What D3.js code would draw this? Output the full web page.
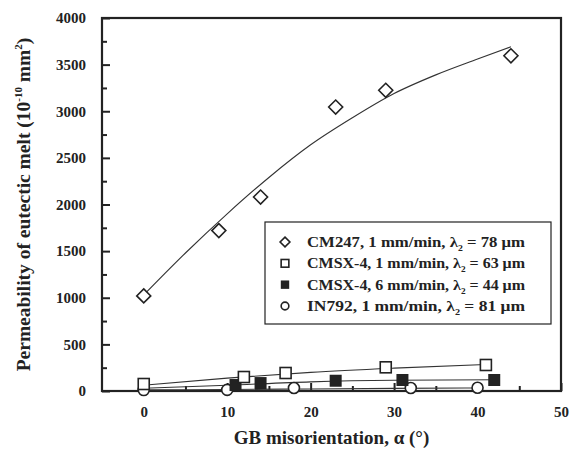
<!DOCTYPE html>
<html>
<head>
<meta charset="utf-8">
<script src="https://cdn.jsdelivr.net/npm/d3@7"></script>
<style>
  body { margin: 0; background: #fff; }
  text { font-family: "Liberation Serif", "Times New Roman", serif; font-weight: bold; fill: #222; }
</style>
</head>
<body>
<div id="chart"></div>
<script>
// values
var xTicks = [0, 10, 20, 30, 40, 50]
var yTicks = [0, 500, 1000, 1500, 2000, 2500, 3000, 3500, 4000]

var cm247X = [0, 9, 14, 23, 29, 44]
var cm247Y = [1020, 1720, 2080, 3045, 3225, 3595]
var cm247FitX = [0, 5, 10, 15, 20, 25, 30, 35, 40, 44]
var cm247FitY = [1030, 1480, 1900, 2290, 2640, 2930, 3190, 3390, 3560, 3692]

var cmsx1X = [0, 12, 17, 29, 41]
var cmsx1Y = [75, 150, 193, 254, 279]
var cmsx1FitX = [0, 10, 20, 30, 41]
var cmsx1FitY = [62, 138, 200, 245, 285]

var cmsx6X = [11, 14, 23, 31, 42]
var cmsx6Y = [64, 85, 110, 118, 118]
var cmsx6FitX = [0, 10, 20, 30, 42]
var cmsx6FitY = [30, 62, 98, 115, 120]

var in792X = [0, 10, 18, 32, 40]
var in792Y = [10, 12, 32, 32, 35]
var in792FitX = [0, 10, 20, 30, 40]
var in792FitY = [12, 16, 22, 28, 32]

var legendNames = ["CM247, 1 mm/min, ", "CMSX-4, 1 mm/min, ", "CMSX-4, 6 mm/min, ", "IN792, 1 mm/min, "]
var legendLambda = ["78", "63", "44", "81"]

var W = 570, H = 456
var L = 102, R = 561, T = 18, B = 391
var ink = "#222"

var svg = d3.select("#chart").append("svg").attr("width", W).attr("height", H)

var x = d3.scaleLinear().domain([-5, 50]).range([L, R])
var y = d3.scaleLinear().domain([0, 4000]).range([B, T])

// ticks, pointing inward
var xAxis = svg.append("g").attr("transform", "translate(0," + B + ")")
    .call(d3.axisBottom(x).tickValues(xTicks).tickFormat(d3.format("d")).tickSizeInner(-8).tickSizeOuter(0).tickPadding(15))
var xMinor = svg.append("g").attr("transform", "translate(0," + B + ")")
    .call(d3.axisBottom(x).tickValues([5, 15, 25, 35, 45]).tickSizeInner(-5).tickSizeOuter(0).tickFormat(""))
var yAxis = svg.append("g").attr("transform", "translate(" + L + ",0)")
    .call(d3.axisLeft(y).tickValues(yTicks).tickFormat(d3.format("d")).tickSizeInner(-8).tickSizeOuter(0).tickPadding(16))
var yMinor = svg.append("g").attr("transform", "translate(" + L + ",0)")
    .call(d3.axisLeft(y).tickValues([250, 750, 1250, 1750, 2250, 2750, 3250, 3750]).tickSizeInner(-5).tickSizeOuter(0).tickFormat(""))

svg.selectAll(".domain").remove()
svg.selectAll(".tick line").attr("stroke", ink).attr("stroke-width", 2)
xAxis.selectAll("text").attr("font-size", 15).attr("fill", ink)
yAxis.selectAll("text").attr("font-size", 15).attr("fill", ink)

// frame
svg.append("rect").attr("x", L).attr("y", T).attr("width", R - L).attr("height", B - T)
    .attr("fill", "none").attr("stroke", ink).attr("stroke-width", 2.2)

// fitted lines
var fits = [[cm247FitX, cm247FitY], [cmsx1FitX, cmsx1FitY], [cmsx6FitX, cmsx6FitY], [in792FitX, in792FitY]]
var line = d3.line().x(d => x(d[0])).y(d => y(d[1])).curve(d3.curveMonotoneX)
fits.forEach(function(f) {
    svg.append("path")
        .attr("d", line(f[0].map((v, i) => [v, f[1][i]])))
        .attr("fill", "none").attr("stroke", "#333").attr("stroke-width", 1.1)
})

// markers
function marker(g, kind, s) {
    if (kind == "diamond") {
        g.append("path").attr("d", "M0,-" + 7*s + "L" + 7*s + ",0L0," + 7*s + "L-" + 7*s + ",0Z")
            .attr("fill", "#fff").attr("stroke", ink).attr("stroke-width", 1.6)
    } else if (kind == "open") {
        g.append("rect").attr("x", -5.5*s).attr("y", -5.5*s).attr("width", 11*s).attr("height", 11*s)
            .attr("fill", "#fff").attr("stroke", ink).attr("stroke-width", 1.6)
    } else if (kind == "filled") {
        g.append("rect").attr("x", -6*s).attr("y", -6*s).attr("width", 12*s).attr("height", 12*s)
            .attr("fill", ink)
    } else {
        g.append("circle").attr("r", 5.5*s)
            .attr("fill", "#fff").attr("stroke", ink).attr("stroke-width", 1.6)
    }
}

var series = [
    {xs: cm247X, ys: cm247Y, kind: "diamond"},
    {xs: in792X, ys: in792Y, kind: "circle"},
    {xs: cmsx6X, ys: cmsx6Y, kind: "filled"},
    {xs: cmsx1X, ys: cmsx1Y, kind: "open"}
]
series.forEach(function(s) {
    s.xs.forEach(function(v, i) {
        var g = svg.append("g").attr("transform", "translate(" + x(v) + "," + y(s.ys[i]) + ")")
        marker(g, s.kind, 1)
    })
})

// legend
var lg = svg.append("g")
lg.append("rect").attr("x", 265).attr("y", 222).attr("width", 286).attr("height", 102)
    .attr("fill", "#fff").attr("stroke", ink).attr("stroke-width", 1.2)
var kinds = ["diamond", "open", "filled", "circle"]
var rowY = d3.scalePoint().domain(d3.range(4)).range([242, 306])
legendNames.forEach(function(name, i) {
    var g = lg.append("g").attr("transform", "translate(285," + rowY(i) + ")")
    marker(g, kinds[i], 0.7)
    var t = lg.append("text").attr("x", 307).attr("y", rowY(i) + 5).attr("font-size", 15.5)
        .attr("textLength", 218).attr("lengthAdjust", "spacingAndGlyphs")
    t.append("tspan").text(name + "λ")
    t.append("tspan").text("2").attr("font-size", 9).attr("dy", 4)
    t.append("tspan").text(" = " + legendLambda[i] + " μm").attr("dy", -4)
})

// axis titles
svg.append("text").attr("x", (L + R) / 2).attr("y", 444).attr("text-anchor", "middle")
    .attr("font-size", 19).text("GB misorientation, α (°)")

var yl = svg.append("text").attr("transform", "translate(30," + ((T + B) / 2) + ") rotate(-90)")
    .attr("text-anchor", "middle").attr("font-size", 19.5)
yl.append("tspan").text("Permeability of eutectic melt (10")
yl.append("tspan").text("-10").attr("font-size", 11).attr("dy", -8)
yl.append("tspan").text(" mm").attr("font-size", 19.5).attr("dy", 8)
yl.append("tspan").text("2").attr("font-size", 11).attr("dy", -8)
yl.append("tspan").text(")").attr("font-size", 19.5).attr("dy", 8)
</script>
</body>
</html>
